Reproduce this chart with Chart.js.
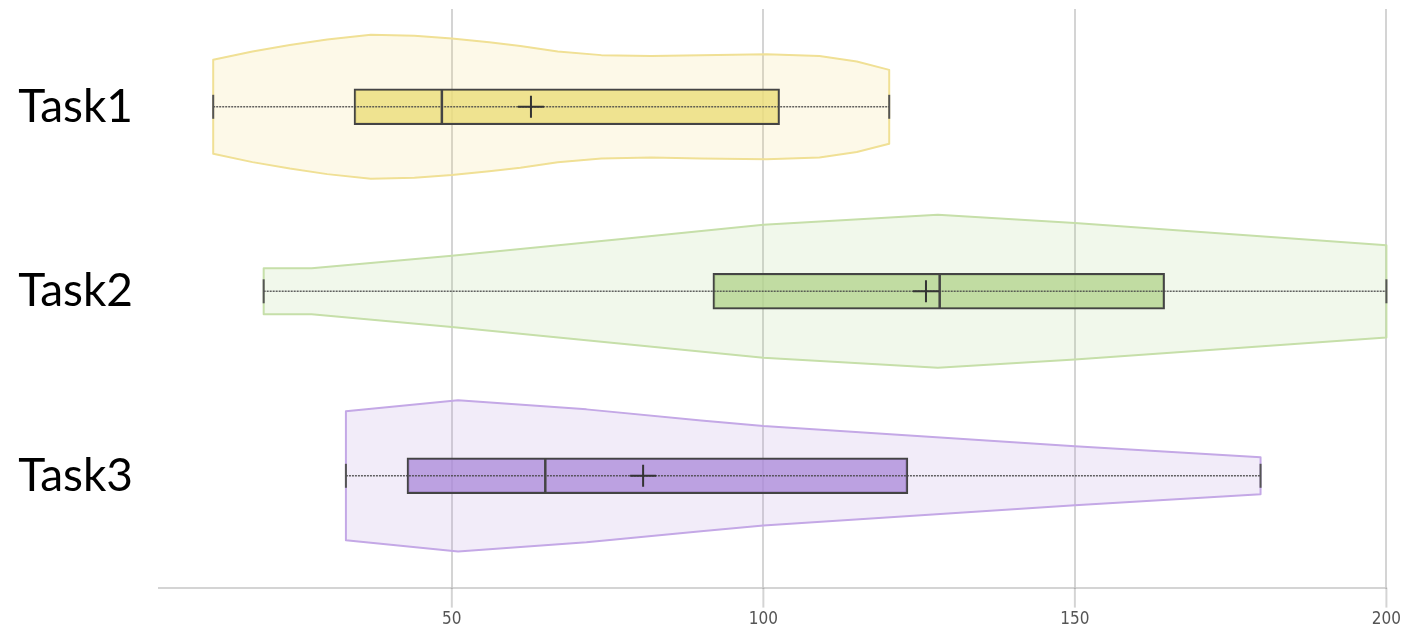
<!DOCTYPE html>
<html>
<head>
<meta charset="utf-8">
<script src="https://cdn.jsdelivr.net/npm/chart.js@4"></script>
<style>
  html, body { margin: 0; padding: 0; background: #fff; }
  #wrap { width: 1403px; height: 629px; }
</style>
</head>
<body>
<div id="wrap"><canvas id="chart"></canvas></div>
<script>
const TASKS = ["Task1", "Task2", "Task3"];
const X_TICKS = [50, 100, 150, 200];

// box plot summary per task
const WHISKER_MIN = [11.7, 19.8, 33.0];
const Q1 = [34.3, 91.9, 42.8];
const MEDIAN = [48.4, 128.3, 65.0];
const MEAN = [62.7, 126.1, 80.7];
const Q3 = [102.6, 164.4, 123.2];
const WHISKER_MAX = [120.2, 200, 179.8];

// violin outline: sample positions and half widths (in row units)
const VIOLIN_AT = [
  [11.7, 18, 24, 30, 37, 44, 50, 56, 61, 67, 74, 82, 90, 100.5, 109, 115, 120.2],
  [19.8, 27.5, 50, 78.5, 100, 128, 150, 200],
  [33.0, 51, 71.6, 90, 100, 150, 179.8],
];
const VIOLIN_HALF = [
  [0.255, 0.30, 0.335, 0.365, 0.39, 0.385, 0.37, 0.35, 0.33, 0.30, 0.28, 0.275, 0.28, 0.285, 0.275, 0.245, 0.20],
  [0.125, 0.125, 0.193, 0.288, 0.36, 0.415, 0.37, 0.25],
  [0.35, 0.41, 0.36, 0.30, 0.27, 0.16, 0.10],
];

const VIOLIN_FILL = ["rgba(238, 214, 90, 0.14)", "rgba(170, 210, 130, 0.16)", "rgba(175, 140, 220, 0.17)"];
const VIOLIN_LINE = ["#f0e095", "#c6dfa9", "#c4a8e6"];
const BOX_FILL = ["rgba(236, 222, 125, 0.82)", "rgba(180, 213, 142, 0.78)", "rgba(170, 135, 216, 0.75)"];
const GRID_COLOR = "rgba(0, 0, 0, 0.17)";
const TICK_MARK = 20;

const violinPlugin = {
  id: "violins",
  beforeDatasetsDraw(chart) {
    const { ctx, scales: { x, y } } = chart;
    ctx.save();
    TASKS.forEach((_, i) => {
      const at = VIOLIN_AT[i];
      const half = VIOLIN_HALF[i];
      ctx.beginPath();
      at.forEach((v, k) => {
        const px = x.getPixelForValue(v);
        const py = y.getPixelForValue(i - half[k]);
        if (k === 0) ctx.moveTo(px, py);
        else ctx.lineTo(px, py);
      });
      for (let k = at.length - 1; k >= 0; k--) {
        ctx.lineTo(x.getPixelForValue(at[k]), y.getPixelForValue(i + half[k]));
      }
      ctx.closePath();
      ctx.fillStyle = VIOLIN_FILL[i];
      ctx.fill();
      ctx.lineWidth = 2;
      ctx.lineJoin = "round";
      ctx.strokeStyle = VIOLIN_LINE[i];
      ctx.stroke();
    });
    ctx.restore();
  },
  afterDatasetsDraw(chart) {
    const { ctx, scales: { x, y } } = chart;
    ctx.save();
    TASKS.forEach((_, i) => {
      const cy = y.getPixelForValue(i);
      const x0 = x.getPixelForValue(WHISKER_MIN[i]);
      const x1 = x.getPixelForValue(WHISKER_MAX[i]);

      // dotted whisker through the box
      ctx.setLineDash([2, 1]);
      ctx.lineWidth = 1.5;
      ctx.strokeStyle = "rgba(70, 70, 70, 0.85)";
      ctx.beginPath();
      ctx.moveTo(x0, cy);
      ctx.lineTo(x1, cy);
      ctx.stroke();
      ctx.setLineDash([]);

      // whisker caps
      ctx.lineWidth = 2;
      ctx.strokeStyle = "#555";
      [x0, x1].forEach((px) => {
        ctx.beginPath();
        ctx.moveTo(px, cy - 12);
        ctx.lineTo(px, cy + 12);
        ctx.stroke();
      });

      // median
      const mx = x.getPixelForValue(MEDIAN[i]);
      ctx.lineWidth = 2.5;
      ctx.strokeStyle = "#444";
      ctx.beginPath();
      ctx.moveTo(mx, cy - 17);
      ctx.lineTo(mx, cy + 17);
      ctx.stroke();

      // mean marker
      const ax = x.getPixelForValue(MEAN[i]);
      ctx.lineWidth = 2;
      ctx.strokeStyle = "#333";
      ctx.beginPath();
      ctx.moveTo(ax - 13, cy);
      ctx.lineTo(ax + 13, cy);
      ctx.moveTo(ax, cy - 11);
      ctx.lineTo(ax, cy + 11);
      ctx.stroke();
    });
    ctx.restore();
  },
  afterDraw(chart) {
    // tick marks hanging below the x axis
    const { ctx, chartArea, scales: { x } } = chart;
    ctx.save();
    ctx.lineWidth = 2;
    ctx.strokeStyle = GRID_COLOR;
    X_TICKS.forEach((v) => {
      const px = x.getPixelForValue(v);
      ctx.beginPath();
      ctx.moveTo(px, chartArea.bottom);
      ctx.lineTo(px, chartArea.bottom + TICK_MARK);
      ctx.stroke();
    });
    ctx.restore();
  },
};

new Chart(document.getElementById("chart"), {
  type: "bar",
  data: {
    datasets: [
      {
        data: TASKS.map((_, i) => ({ y: i, x: [Q1[i], Q3[i]] })),
        backgroundColor: BOX_FILL,
        borderColor: "#444",
        borderWidth: 2,
        borderSkipped: false,
        barThickness: 36,
      },
    ],
  },
  options: {
    indexAxis: "y",
    responsive: true,
    maintainAspectRatio: false,
    animation: false,
    layout: { padding: { top: 9, left: 14, right: 14, bottom: -3 } },
    plugins: { legend: { display: false }, tooltip: { enabled: false } },
    scales: {
      x: {
        type: "linear",
        min: 3,
        max: 200,
        afterBuildTicks: (scale) => {
          scale.ticks = X_TICKS.map((v) => ({ value: v }));
        },
        afterFit: (scale) => {
          scale.paddingLeft = 0;
        },
        grid: {
          color: GRID_COLOR,
          tickColor: "rgba(0, 0, 0, 0)",
          lineWidth: 2,
          tickLength: TICK_MARK,
        },
        border: { display: true, color: GRID_COLOR, width: 2 },
        ticks: {
          padding: 2,
          color: "#555",
          font: { family: "'Liberation Sans Narrow', 'DejaVu Sans Condensed', sans-serif", size: 17 },
        },
      },
      y: {
        type: "linear",
        reverse: true,
        offset: false,
        min: -0.53,
        max: 2.606,
        afterBuildTicks: (scale) => {
          scale.ticks = TASKS.map((_, i) => ({ value: i }));
        },
        afterFit: (scale) => {
          scale.width = 145;
          scale.paddingTop = 0;
          scale.paddingBottom = 0;
        },
        grid: { display: false, drawTicks: false },
        border: { display: false },
        ticks: {
          padding: 26,
          color: "#000",
          callback: (v) => TASKS[v],
          font: { family: "Lato, 'Open Sans', sans-serif", size: 46 },
        },
      },
    },
  },
  plugins: [violinPlugin],
});
</script>
</body>
</html>
